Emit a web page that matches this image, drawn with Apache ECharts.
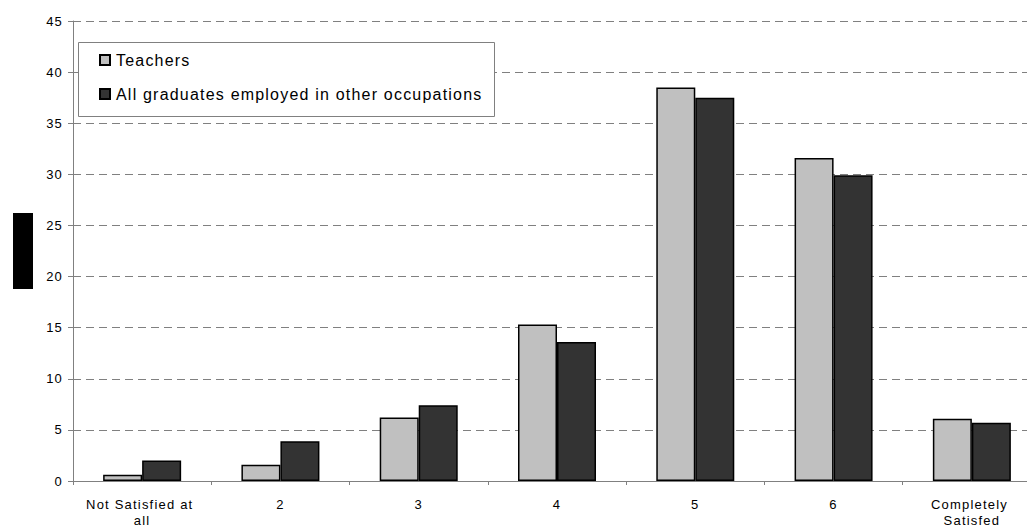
<!DOCTYPE html>
<html>
<head>
<meta charset="utf-8">
<script src="https://cdn.jsdelivr.net/npm/echarts@6/dist/echarts.min.js"></script>
<style>
  html, body { margin: 0; padding: 0; background: #fff; }
  #chart { width: 1027px; height: 530px; }
  /* loose tracking for all chart text */
  #chart text { letter-spacing: 1.2px; }
</style>
</head>
<body>
<div id="chart"></div>
<script>
// Satisfaction rating categories (1 = not satisfied, 7 = completely satisfied)
const categories = ['Not Satisfied at all', '2', '3', '4', '5', '6', 'Completely Satisfed'];
// Percentage of respondents in each rating
const teachers = [0.6, 1.6, 6.2, 15.3, 38.5, 31.6, 6.1];
const otherGraduates = [2.0, 3.9, 7.4, 13.6, 37.5, 29.9, 5.7];
const seriesNames = ['Teachers', 'All graduates employed in other occupations'];

const FONT = '"Liberation Sans", Arial, sans-serif';

const chart = echarts.init(document.getElementById('chart'), null, { renderer: 'svg' });

const barStyle = (color) => ({
  color: color,
  borderColor: '#000',
  borderWidth: 1.5
});

chart.setOption({
  animation: false,
  backgroundColor: '#fff',
  textStyle: { fontFamily: FONT },
  // plot area runs slightly past the right edge of the page
  grid: { left: 73, top: 21, height: 460, width: 968, outerBoundsMode: 'none', containLabel: false },
  graphic: [
    // frame around the legend
    {
      type: 'rect',
      shape: { x: 78.5, y: 42.5, width: 416, height: 74 },
      style: { fill: '#fff', stroke: '#808080', lineWidth: 1 },
      z: 5
    },
    // masked axis title
    {
      type: 'rect',
      shape: { x: 13, y: 213, width: 20, height: 76 },
      style: { fill: '#000' }
    }
  ],
  legend: {
    orient: 'vertical',
    left: 94,
    top: 47,
    itemGap: 18,
    itemWidth: 10,
    itemHeight: 10,
    icon: 'rect',
    z: 10,
    textStyle: { fontFamily: FONT, fontSize: 16, color: '#000', padding: [0, 0, 0, 1] },
    data: seriesNames
  },
  xAxis: {
    type: 'category',
    data: categories,
    boundaryGap: true,
    axisLine: { lineStyle: { color: '#808080', width: 1 } },
    axisTick: { show: true, length: 4, lineStyle: { color: '#808080' } },
    axisLabel: {
      fontFamily: FONT,
      fontSize: 13,
      color: '#000',
      margin: 15,
      lineHeight: 16,
      width: 98,
      overflow: 'break',
      interval: 0
    }
  },
  yAxis: {
    type: 'value',
    min: 0,
    max: 45,
    interval: 5,
    axisLine: { show: true, lineStyle: { color: '#808080', width: 1 } },
    axisTick: { show: true, length: 5, lineStyle: { color: '#808080' } },
    axisLabel: { fontFamily: FONT, fontSize: 13, color: '#000', margin: 10 },
    splitLine: {
      show: true,
      lineStyle: { color: '#808080', type: [8, 5], width: 1 }
    }
  },
  series: [
    {
      name: seriesNames[0],
      type: 'bar',
      data: teachers,
      barWidth: 39,
      barGap: '0%',
      itemStyle: barStyle('#C0C0C0')
    },
    {
      name: seriesNames[1],
      type: 'bar',
      data: otherGraduates,
      barWidth: 39,
      barGap: '0%',
      itemStyle: barStyle('#333333')
    }
  ]
});
</script>
</body>
</html>
